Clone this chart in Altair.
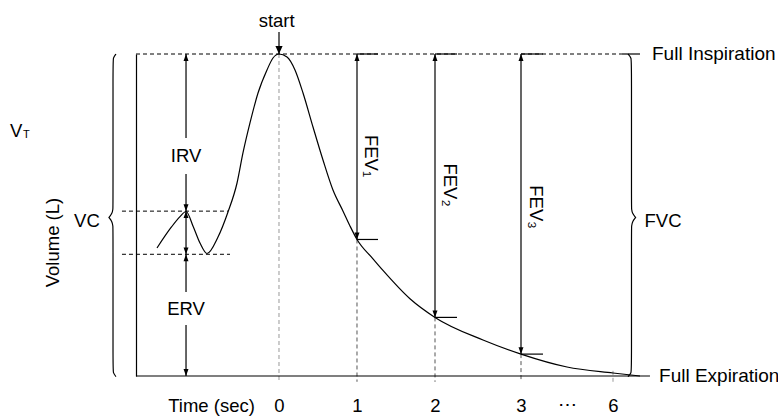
import altair as alt
import pandas as pd

FONT = "Liberation Sans"

# ---- scales (schematic time axis: 0-3 s evenly spaced, 3-6 s compressed) ----
X_DOMAIN = [-1.8333, 2, 3, 6, 8.1154]
X_RANGE = [0, 299, 385, 477, 642]
Y_DOMAIN = [0, 5]

# ---- spirogram trace ----
curve_t = [-1.564, -1.376, -1.269, -1.192, -1.099, -1.013, -0.923, -0.782, -0.654,
           -0.538, -0.462, -0.372, -0.269, -0.154, -0.077, 0.0, 0.103, 0.205, 0.308,
           0.436, 0.564, 0.692, 0.821, 0.91, 1.0, 1.205, 1.333, 1.679, 2.0, 2.558,
           3.0, 4.5, 6.0, 6.346]
curve_v = [1.988, 2.318, 2.474, 2.554, 2.318, 2.065, 1.902, 2.158, 2.547,
           2.997, 3.463, 3.929, 4.394, 4.752, 4.938, 5.0, 4.953, 4.752, 4.394,
           3.866, 3.354, 2.888, 2.56, 2.33, 2.12, 1.82, 1.64, 1.20, 0.91, 0.559,
           0.34, 0.140, 0.047, 0.0]

# ---- reference levels ----
V_INSP = 5.0
V_EXP = 0.0
V_TID_TOP = 2.56
V_TID_BOT = 1.89
T_LEFT = -1.8333
T_LUNG_ARROW = -1.192
T_TIDAL_DASH = [-2.013, -0.654, -0.628]
T_INSP_TICK = [6.115, 6.346]
T_EXP_END = 6.474
V_BELOW = -0.09

# ---- FEV markers ----
fev_t = [1, 2, 3]
fev_v = [2.12, 0.91, 0.34]
fev_tick_end = [1.269, 2.256, 3.717]
fev_label_t = [1.179, 2.174, 3.489]
fev_label_v = [3.416, 2.966, 2.624]
fev_labels = ["FEV₁", "FEV₂", "FEV₃"]

# ---- gaps in the IRV / ERV arrows for their labels ----
irv_gap = [3.696, 3.137]
erv_gap = [1.304, 0.792]

# ---- axis ticks ----
tick_values = [0, 1, 2, 3, 6]

# ---- braces (control points) ----
brace_l_t = [-2.09, -2.128, -2.128, -2.128, -2.128, -2.141, -2.18, -2.18, -2.18,
             -2.141, -2.128, -2.128, -2.128, -2.128, -2.09]
brace_r_t = [6.192, 6.237, 6.237, 6.237, 6.237, 6.25, 6.29, 6.29, 6.29,
             6.25, 6.237, 6.237, 6.237, 6.237, 6.192]
brace_v = [5.0, 4.94, 4.85, 2.66, 2.59, 2.52, 2.46, 2.46, 2.46,
           2.40, 2.33, 2.26, 0.12, 0.05, -0.01]

# ---- text labels ----
lab_text = ["start", "IRV", "ERV", "VC", "FVC", "V", "⋯"]
lab_t = [-0.03, -1.192, -1.192, -2.462, 6.641, -3.37, 4.5]
lab_v = [5.505, 3.41, 1.048, 2.407, 2.407, 3.804, -0.45]
side_text = ["Full Inspiration", "Full Expiration"]
side_t = [6.5, 6.59]
side_v = [5.0, 0.0]
sub_text = ["T"]
sub_t = [-3.24]
sub_v = [3.735]

FS = 18.5

# ---------------------------------------------------------------
xs = alt.Scale(domain=X_DOMAIN, range=X_RANGE, nice=False, zero=False)
ys = alt.Scale(domain=Y_DOMAIN, nice=False, zero=False)

x_axis = alt.Axis(values=tick_values, title="Time (sec)", domain=False, ticks=False,
                  tickSize=0, grid=False, labelFont=FONT, labelFontSize=FS,
                  labelColor="black", labelPadding=29, labelBaseline="middle",
                  labelFlush=False, labelOverlap=False, format="d",
                  titleFont=FONT, titleFontSize=FS, titleFontWeight="normal",
                  titleColor="black", titleX=75, titleY=29, titleBaseline="middle",
                  titleAlign="center")
y_axis = alt.Axis(title="Volume (L)", labels=False, ticks=False, grid=False,
                  domain=True, domainColor="black", domainWidth=1.2,
                  titleFont=FONT, titleFontSize=FS, titleFontWeight="normal",
                  titleColor="black", titleAngle=270, titleX=-84, titleY=188,
                  titleAlign="center", titleBaseline="middle")


def X(f="t"):
    return alt.X(f + ":Q", scale=xs, axis=x_axis)


def Y(f="v"):
    return alt.Y(f + ":Q", scale=ys, axis=y_axis)


def seg_df(rows):
    return pd.DataFrame(rows, columns=["t", "v", "t2", "v2"])


solid = seg_df(
    [[T_LEFT, V_EXP, T_EXP_END, V_EXP],
     [T_INSP_TICK[0], V_INSP, T_INSP_TICK[1], V_INSP],
     [T_LUNG_ARROW, V_INSP, T_LUNG_ARROW, irv_gap[0]],
     [T_LUNG_ARROW, irv_gap[1], T_LUNG_ARROW, V_TID_TOP],
     [T_LUNG_ARROW, V_TID_TOP, T_LUNG_ARROW, V_TID_BOT],
     [T_LUNG_ARROW, V_TID_BOT, T_LUNG_ARROW, erv_gap[0]],
     [T_LUNG_ARROW, erv_gap[1], T_LUNG_ARROW, V_EXP],
     [0, 5.342, 0, V_INSP]]
    + [[t, V_INSP, t, v] for t, v in zip(fev_t, fev_v)]
    + [[t, V_INSP, e, V_INSP] for t, e in zip(fev_t, fev_tick_end)]
    + [[t, v, e, v] for t, v, e in zip(fev_t, fev_v, fev_tick_end)]
)
dashed = seg_df(
    [[T_LEFT, V_INSP, T_INSP_TICK[0], V_INSP],
     [T_TIDAL_DASH[0], V_TID_TOP, T_TIDAL_DASH[1], V_TID_TOP],
     [T_TIDAL_DASH[0], V_TID_BOT, T_TIDAL_DASH[2], V_TID_BOT]]
)
grid_dark = seg_df([[t, v, t, V_BELOW] for t, v in zip(fev_t, fev_v)])
grid_light = seg_df([[0, V_INSP, 0, V_BELOW], [6, 0.08, 6, V_BELOW]])


def rule_layer(df, **kw):
    return alt.Chart(df).mark_rule(**kw).encode(x=X(), y=Y(), x2="t2:Q", y2="v2:Q")


l_solid = rule_layer(solid, color="black", strokeWidth=1.2)
l_dash = rule_layer(dashed, color="black", strokeWidth=1, strokeDash=[4, 3])
l_gdark = rule_layer(grid_dark, color="#555555", strokeWidth=1, strokeDash=[4, 3])
l_glight = rule_layer(grid_light, color="#999999", strokeWidth=1, strokeDash=[4, 3])

curve = pd.DataFrame({"t": curve_t, "v": curve_v})
l_curve = alt.Chart(curve).mark_line(color="black", strokeWidth=1.2,
                                     interpolate="monotone").encode(x=X(), y=Y())

braces = pd.DataFrame({
    "t": brace_l_t + brace_r_t,
    "v": brace_v + brace_v,
    "side": ["left"] * len(brace_v) + ["right"] * len(brace_v),
    "k": list(range(len(brace_v))) * 2,
})
l_brace = alt.Chart(braces).mark_line(color="black", strokeWidth=1.2,
                                      interpolate="basis").encode(
    x=X(), y=Y(), detail="side:N", order="k:Q")

UP = "M0,0L-0.36,1L0.36,1Z"
DOWN = "M0,0L-0.36,-1L0.36,-1Z"
heads = pd.DataFrame({
    "t": [T_LUNG_ARROW, T_LUNG_ARROW, T_LUNG_ARROW, T_LUNG_ARROW, T_LUNG_ARROW,
          T_LUNG_ARROW] + fev_t + fev_t,
    "v": [V_INSP, V_TID_TOP, V_TID_TOP, V_TID_BOT, V_TID_BOT, V_EXP]
         + [V_INSP] * 3 + fev_v,
    "dir": ["up", "down", "up", "down", "up", "down"] + ["up"] * 3 + ["down"] * 3,
})
l_heads = alt.Chart(heads).mark_point(filled=True, opacity=1, color="black",
                                      size=190, strokeWidth=0).encode(
    x=X(), y=Y(),
    shape=alt.Shape("dir:N", scale=alt.Scale(domain=["up", "down"], range=[UP, DOWN]),
                    legend=None))
start_head = pd.DataFrame({"t": [0], "v": [V_INSP]})
l_start = alt.Chart(start_head).mark_point(filled=True, opacity=1, color="black",
                                           size=256, strokeWidth=0,
                                           shape="M0,0L-0.45,-1L0.45,-1Z").encode(
    x=X(), y=Y())

labels = pd.DataFrame({"t": lab_t, "v": lab_v, "text": lab_text})
l_text = alt.Chart(labels).mark_text(font=FONT, fontSize=FS, color="black",
                                     align="center", baseline="middle").encode(
    x=X(), y=Y(), text="text:N")
side = pd.DataFrame({"t": side_t, "v": side_v, "text": side_text})
l_side = alt.Chart(side).mark_text(font=FONT, fontSize=19, color="black",
                                   align="left", baseline="middle").encode(
    x=X(), y=Y(), text="text:N")
sub = pd.DataFrame({"t": sub_t, "v": sub_v, "text": sub_text})
l_sub = alt.Chart(sub).mark_text(font=FONT, fontSize=11, color="black",
                                 align="center", baseline="middle").encode(
    x=X(), y=Y(), text="text:N")
fev = pd.DataFrame({"t": fev_label_t, "v": fev_label_v, "text": fev_labels})
l_fev = alt.Chart(fev).mark_text(font=FONT, fontSize=FS, color="black", angle=90,
                                 align="center", baseline="middle").encode(
    x=X(), y=Y(), text="text:N")

chart = alt.layer(
    l_glight, l_gdark, l_dash, l_solid, l_curve, l_brace, l_heads, l_start,
    l_text, l_side, l_sub, l_fev
).properties(
    width=642, height=322,
    autosize=alt.AutoSizeParams(type="none"),
    padding={"left": 136, "top": 54, "right": 0, "bottom": 40},
    background="white",
).configure_view(stroke=None)

chart.save("out.html", embed_options={"renderer": "svg", "actions": False})
